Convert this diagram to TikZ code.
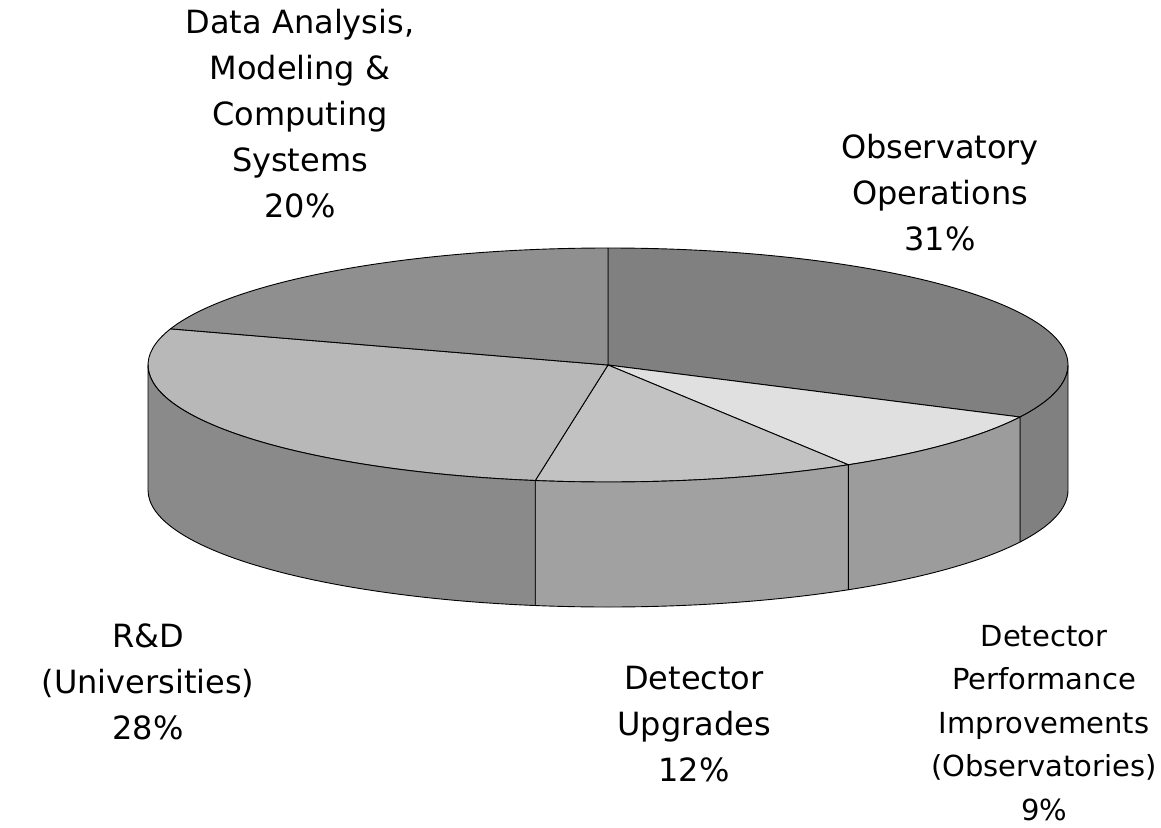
\documentclass[tikz,border=0pt]{standalone}
\usepackage{fontspec}
\setmainfont{DejaVu Sans}
\definecolor{dataTop}{gray}{0.56}
\definecolor{obsTop}{gray}{0.50}
\definecolor{obsSide}{gray}{0.50}
\definecolor{rdTop}{gray}{0.72}
\definecolor{rdSide}{gray}{0.54}
\definecolor{upTop}{gray}{0.76}
\definecolor{upSide}{gray}{0.63}
\definecolor{perfTop}{gray}{0.88}
\definecolor{perfSide}{gray}{0.61}
\tikzset{
  slice/.style={draw=black, line width=0.9pt, line join=round},
  ell/.style={x radius=460, y radius=117},
  lbl/.style={align=center, inner sep=0pt, font=\fontsize{32}{46}\selectfont},
  lblsmall/.style={align=center, inner sep=0pt, font=\fontsize{29}{43.5}\selectfont},
}
\begin{document}
\begin{tikzpicture}[x=1pt,y=-1pt]
\fill[white] (0,0) rectangle (1161,827);
\useasboundingbox (0,0) rectangle (1161,827);
\coordinate (c) at (608,365);
% top surfaces
\filldraw[slice, fill=obsTop] (c) -- ++(-90:460 and 117) arc[ell, start angle=-90, end angle=26.4] -- cycle;
\filldraw[slice, fill=perfTop] (c) -- ++(26.4:460 and 117) arc[ell, start angle=26.4, end angle=58.5] -- cycle;
\filldraw[slice, fill=upTop] (c) -- ++(58.5:460 and 117) arc[ell, start angle=58.5, end angle=99.1] -- cycle;
\filldraw[slice, fill=rdTop] (c) -- ++(99.1:460 and 117) arc[ell, start angle=99.1, end angle=198] -- cycle;
\filldraw[slice, fill=dataTop] (c) -- ++(198:460 and 117) arc[ell, start angle=198, end angle=270] -- cycle;
% side surfaces
\filldraw[slice, fill=obsSide] (c) ++(0:460 and 117) arc[ell, start angle=0, end angle=26.4] -- ++(0,125) arc[ell, start angle=26.4, end angle=0] -- cycle;
\filldraw[slice, fill=perfSide] (c) ++(26.4:460 and 117) arc[ell, start angle=26.4, end angle=58.5] -- ++(0,125) arc[ell, start angle=58.5, end angle=26.4] -- cycle;
\filldraw[slice, fill=upSide] (c) ++(58.5:460 and 117) arc[ell, start angle=58.5, end angle=99.1] -- ++(0,125) arc[ell, start angle=99.1, end angle=58.5] -- cycle;
\filldraw[slice, fill=rdSide] (c) ++(99.1:460 and 117) arc[ell, start angle=99.1, end angle=180] -- ++(0,125) arc[ell, start angle=180, end angle=99.1] -- cycle;
% labels
\node[lbl] (ldata) at (300,114) {Data Analysis,\\Modeling \&\\Computing\\Systems\\20\%};
\node[lbl] (lobs) at (940,193) {Observatory\\Operations\\31\%};
\node[lbl] (lrd) at (148,682) {R\&D\\(Universities)\\28\%};
\node[lbl] (lup) at (694,724) {Detector\\Upgrades\\12\%};
\node[lblsmall] (lperf) at (1044,723) {Detector\\Performance\\Improvements\\(Observatories)\\9\%};
\end{tikzpicture}
\end{document}
